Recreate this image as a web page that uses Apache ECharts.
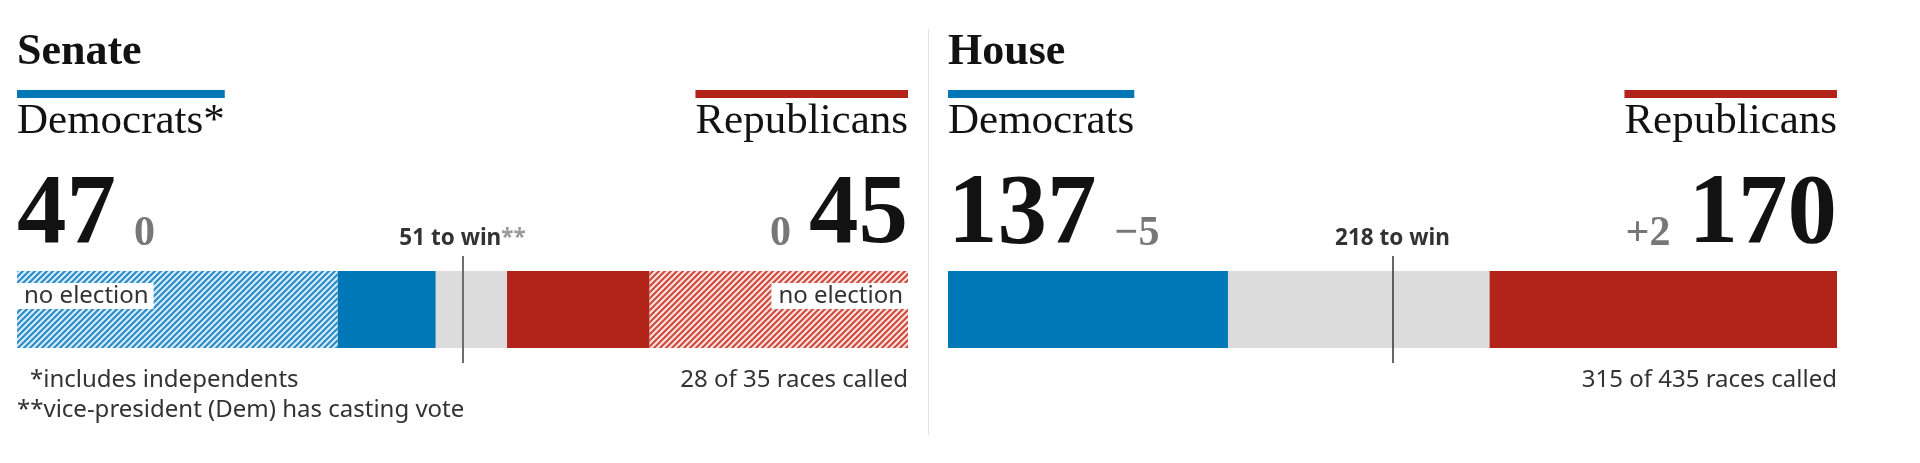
<!DOCTYPE html>
<html>
<head>
<meta charset="utf-8">
<script src="https://cdn.jsdelivr.net/npm/echarts@6/dist/echarts.min.js"></script>
<style>
html,body{margin:0;padding:0;background:#fff;}
#c{width:1920px;height:463px;}
</style>
</head>
<body>
<div id="c"></div>
<script>
// ---------------- DATA ----------------
const chamberTitles = ['Senate', 'House'];
const senateParties = ['Democrats*', 'Republicans'];
const houseParties = ['Democrats', 'Republicans'];

const senateParts = ['Democrats (no election)', 'Democrats', 'Undecided', 'Republicans', 'Republicans (no election)'];
const senateSeats = [36, 11, 8, 16, 29];
const senateChange = [0, 0];            // Dem, Rep
const senateMarker = 50;
const senateMarkerText = ['51 to win', '**'];
const senateCalled = '28 of 35 races called';
const senateNotes = ['*includes independents', '**vice-president (Dem) has casting vote'];
const noElectionText = 'no election';

const houseParts = ['Democrats', 'Undecided', 'Republicans'];
const houseSeats = [137, 128, 170];
const houseChange = [-5, 2];            // Dem, Rep
const houseMarker = 217.5;
const houseMarkerText = '218 to win';
const houseCalled = '315 of 435 races called';

// ---------------- STYLE ----------------
const BLUE = '#0077b6', RED = '#b2241a', GREY = '#dcdcdc', INK = '#121212', SUB = '#333333', CHG = '#777777';
const SERIF = '"Liberation Serif", "DejaVu Serif", serif';
const SANS = '"Noto Sans", "Open Sans", sans-serif';

function hatch(color, bg) {
  const s = 6;
  const c = document.createElement('canvas');
  c.width = s; c.height = s;
  const ctx = c.getContext('2d');
  ctx.fillStyle = bg;
  ctx.fillRect(0, 0, s, s);
  ctx.strokeStyle = color;
  ctx.lineWidth = 2.1;
  ctx.beginPath();
  ctx.moveTo(0, s); ctx.lineTo(s, 0);
  ctx.moveTo(-s / 2, s / 2); ctx.lineTo(s / 2, -s / 2);
  ctx.moveTo(s / 2, s * 1.5); ctx.lineTo(s * 1.5, s / 2);
  ctx.stroke();
  return c;
}

const mc = document.createElement('canvas').getContext('2d');
function textW(str, font) { mc.font = font; return mc.measureText(str).width; }

const sum = a => a.reduce((p, v) => p + v, 0);
const senateTotal = sum(senateSeats), houseTotal = sum(houseSeats);
const senateDem = senateSeats[0] + senateSeats[1];
const senateRep = senateSeats[3] + senateSeats[4];
const houseDem = houseSeats[0], houseRep = houseSeats[2];
const fmtChg = v => v > 0 ? '+' + v : (v < 0 ? '\u2212' + Math.abs(v) : '0');

const chart = echarts.init(document.getElementById('c'), null, {renderer: 'canvas'});

const K_SERIF = 0.32, K_SANS = 0.30;
function txt(x, baseline, str, size, family, weight, color, align) {
  const k = family === SANS ? K_SANS : K_SERIF;
  return {
    type: 'text', x: x, y: baseline - k * size, silent: true,
    style: {text: str, fontSize: size, fontFamily: family, fontWeight: weight, fill: color,
            align: align || 'left', verticalAlign: 'middle'}
  };
}

const BIG = 99, SMALL = 42, GAP = 18, PARTY = 43, NOTE = 24;
const bigFont = 'bold ' + BIG + 'px ' + SERIF;
const panels = [
  {left: 17, right: 908, title: chamberTitles[0], parties: senateParties,
   dem: senateDem, rep: senateRep, chg: senateChange, called: senateCalled},
  {left: 948, right: 1837, title: chamberTitles[1], parties: houseParties,
   dem: houseDem, rep: houseRep, chg: houseChange, called: houseCalled}
];

const graphics = [];
graphics.push({type: 'line', silent: true, shape: {x1: 928.5, y1: 29, x2: 928.5, y2: 435},
  style: {stroke: '#e3e3e3', lineWidth: 1}});
panels.forEach(p => {
  graphics.push(txt(p.left, 67, p.title, 44, SERIF, 'bold', INK, 'left'));
  const wd = textW(p.parties[0], PARTY + 'px ' + SERIF);
  const wr = textW(p.parties[1], PARTY + 'px ' + SERIF);
  graphics.push({type: 'rect', silent: true, shape: {x: p.left, y: 90, width: wd, height: 8}, style: {fill: BLUE}});
  graphics.push({type: 'rect', silent: true, shape: {x: p.right - wr, y: 90, width: wr, height: 8}, style: {fill: RED}});
  graphics.push(txt(p.left, 135, p.parties[0], PARTY, SERIF, 'normal', INK, 'left'));
  graphics.push(txt(p.right, 135, p.parties[1], PARTY, SERIF, 'normal', INK, 'right'));
  const demStr = String(p.dem), repStr = String(p.rep);
  const wDem = textW(demStr, bigFont), wRep = textW(repStr, bigFont);
  graphics.push(txt(p.left, 248, demStr, BIG, SERIF, 'bold', INK, 'left'));
  graphics.push(txt(p.left + wDem + GAP, 248, fmtChg(p.chg[0]), SMALL, SERIF, 'bold', CHG, 'left'));
  graphics.push(txt(p.right, 248, repStr, BIG, SERIF, 'bold', INK, 'right'));
  graphics.push(txt(p.right - wRep - GAP, 248, fmtChg(p.chg[1]), SMALL, SERIF, 'bold', CHG, 'right'));
  graphics.push(txt(p.right, 387, p.called, NOTE, SANS, 'normal', SUB, 'right'));
});
graphics.push(txt(30, 387, senateNotes[0], NOTE, SANS, 'normal', SUB, 'left'));
graphics.push(txt(17, 417, senateNotes[1], NOTE, SANS, 'normal', SUB, 'left'));

const noElLabel = (right) => ({
  show: true, formatter: noElectionText,
  position: right ? ['100%', 12] : [0, 12], align: right ? 'right' : 'left', verticalAlign: 'top',
  backgroundColor: '#ffffff', color: SUB, fontFamily: SANS, fontSize: 24, lineHeight: 20,
  padding: [3, 5, 3, 7]
});

const markLabel = (fmt) => ({
  show: true, position: 'end', distance: 6, formatter: fmt,
  fontFamily: SANS, fontWeight: 'bold', fontSize: 22.5, color: SUB,
  rich: {
    a: {fontFamily: SANS, fontWeight: 'bold', fontSize: 22.5, color: SUB},
    b: {fontFamily: SANS, fontWeight: 'bold', fontSize: 22.5, color: '#999999'}
  }
});

const senateColors = [
  {image: hatch('#2a8cc7', '#d6ebf7'), repeat: 'repeat'}, BLUE, GREY, RED,
  {image: hatch('#cf4a3e', '#fbe3e0'), repeat: 'repeat'}
];
const houseColors = [BLUE, GREY, RED];

const series = [];
senateParts.forEach((name, i) => {
  const s = {
    name: name, type: 'bar', stack: 'senate', xAxisIndex: 0, yAxisIndex: 0, barWidth: 77,
    data: [senateSeats[i]], itemStyle: {color: senateColors[i]}, silent: true
  };
  if (i === 0) s.label = noElLabel(false);
  if (i === 4) s.label = noElLabel(true);
  if (i === 2) s.markLine = {
    symbol: 'none', silent: true, animation: false,
    lineStyle: {color: '#6e6e6e', width: 2, type: 'solid'},
    label: markLabel('{a|' + senateMarkerText[0] + '}{b|' + senateMarkerText[1] + '}'),
    data: [{xAxis: senateMarker}]
  };
  series.push(s);
});
houseParts.forEach((name, i) => {
  const s = {
    name: name, type: 'bar', stack: 'house', xAxisIndex: 1, yAxisIndex: 1, barWidth: 77,
    data: [houseSeats[i]], itemStyle: {color: houseColors[i]}, silent: true
  };
  if (i === 1) s.markLine = {
    symbol: 'none', silent: true, animation: false,
    lineStyle: {color: '#333333', width: 1.5, type: 'solid'},
    label: markLabel('{a|' + houseMarkerText + '}'),
    data: [{xAxis: houseMarker}]
  };
  series.push(s);
});

chart.setOption({
  animation: false,
  backgroundColor: '#ffffff',
  grid: [
    {left: 17, top: 256, width: 891, height: 107},
    {left: 948, top: 256, width: 889, height: 107}
  ],
  xAxis: [
    {gridIndex: 0, type: 'value', min: 0, max: senateTotal, show: false},
    {gridIndex: 1, type: 'value', min: 0, max: houseTotal, show: false}
  ],
  yAxis: [
    {gridIndex: 0, type: 'category', data: [chamberTitles[0]], show: false},
    {gridIndex: 1, type: 'category', data: [chamberTitles[1]], show: false}
  ],
  series: series,
  graphic: graphics
});
</script>
</body>
</html>
